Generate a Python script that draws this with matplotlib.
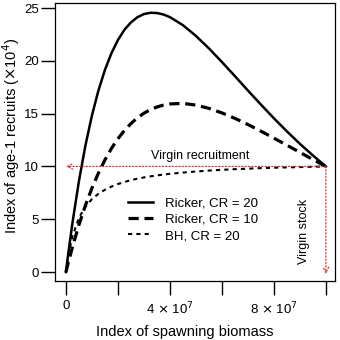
import matplotlib
matplotlib.use("Agg")
import matplotlib.pyplot as plt

plt.rcParams['font.family'] = ['Liberation Sans', 'DejaVu Sans']

# spawning biomass (index)
biomass = [0, 0.1e7, 0.25e7, 0.5e7, 0.75e7, 1e7, 1.25e7, 1.5e7, 1.75e7, 2e7,
           2.25e7, 2.5e7, 2.75e7, 3e7, 3.25e7, 3.5e7, 3.75e7, 4e7, 4.5e7, 5e7,
           5.5e7, 6e7, 6.5e7, 7e7, 7.5e7, 8e7, 8.5e7, 9e7, 9.5e7, 10e7]
# age-1 recruits (x 10^4)
ricker_20 = [0, 1.94, 4.64, 8.61, 11.98, 14.82, 17.19, 19.14, 20.72, 21.97,
             22.94, 23.64, 24.13, 24.43, 24.55, 24.53, 24.39, 24.14, 23.38, 22.36,
             21.18, 19.89, 18.55, 17.19, 15.86, 14.56, 13.32, 12.14, 11.04, 10.0]
ricker_10 = [0, 0.98, 2.36, 4.46, 6.31, 7.94, 9.37, 10.62, 11.70, 12.62,
             13.40, 14.06, 14.60, 15.04, 15.38, 15.63, 15.81, 15.92, 15.97, 15.81,
             15.50, 15.07, 14.55, 13.97, 13.34, 12.68, 12.01, 11.33, 10.66, 10.0]
bh_20 = [0, 1.68, 3.39, 5.13, 6.19, 6.90, 7.41, 7.79, 8.09, 8.33,
         8.53, 8.70, 8.84, 8.96, 9.06, 9.15, 9.23, 9.30, 9.42, 9.52,
         9.61, 9.68, 9.74, 9.79, 9.84, 9.88, 9.91, 9.94, 9.97, 10.0]

virgin_stock = 1e8
virgin_recruit = 10

red = '#cc3b36'

fig = plt.figure(figsize=(3.4, 3.4), dpi=100)
ax = fig.add_axes([0.163, 0.1735, 0.822, 0.819])

ax.plot(biomass, ricker_20, color='black', lw=1.8, label='Ricker, CR = 20')
ax.plot(biomass, ricker_10, color='black', lw=2.3, linestyle=(0, (3.2, 1.8)),
        label='Ricker, CR = 10')
ax.plot(biomass, bh_20, color='black', lw=1.5, linestyle=(0, (2, 2)),
        label='BH, CR = 20')

# virgin recruitment / virgin stock arrows
ax.annotate('', xy=(0, virgin_recruit), xytext=(virgin_stock, virgin_recruit),
            arrowprops=dict(arrowstyle='->', color=red, lw=0.9, linestyle=':',
                            shrinkA=0, shrinkB=0))
ax.annotate('', xy=(virgin_stock, -0.2), xytext=(virgin_stock, virgin_recruit),
            arrowprops=dict(arrowstyle='->', color=red, lw=0.9, linestyle=':',
                            shrinkA=0, shrinkB=0))
ax.text(5.15e7, 11.0, 'Virgin recruitment', ha='center', va='center', fontsize=9)
ax.text(9.15e7, 3.85, 'Virgin stock', rotation=90, ha='center', va='center',
        fontsize=9)

ax.set_xlim(-0.404e7, 10.346e7)
ax.set_ylim(-0.85, 25.52)
ax.set_xticks([0, 2e7, 4e7, 6e7, 8e7, 10e7])
ax.set_xticklabels(['0', '', r'4 $\times$ 10$^7$', '', r'8 $\times$ 10$^7$', ''])
ax.set_yticks([0, 5, 10, 15, 20, 25])
ax.tick_params(axis='both', direction='out', length=10, width=1, labelsize=9.5)
ax.tick_params(axis='x', pad=4)
ax.tick_params(axis='y', pad=2)
for sp in ax.spines.values():
    sp.set_linewidth(0.9)

ax.set_xlabel('Index of spawning biomass', fontsize=10.5)
ax.set_ylabel(r'Index of age-1 recruits ($\times$10$^4$)', fontsize=10.5)
ax.xaxis.set_label_coords(0.462, -0.158)
ax.yaxis.set_label_coords(-0.12, 0.52)

ax.legend(loc='upper left', bbox_to_anchor=(0.26, 0.3), frameon=False,
          borderpad=0, borderaxespad=0, fontsize=9.5, handlelength=1.9,
          handletextpad=0.9, labelspacing=0.3)

fig.savefig('out.png', dpi=100)
